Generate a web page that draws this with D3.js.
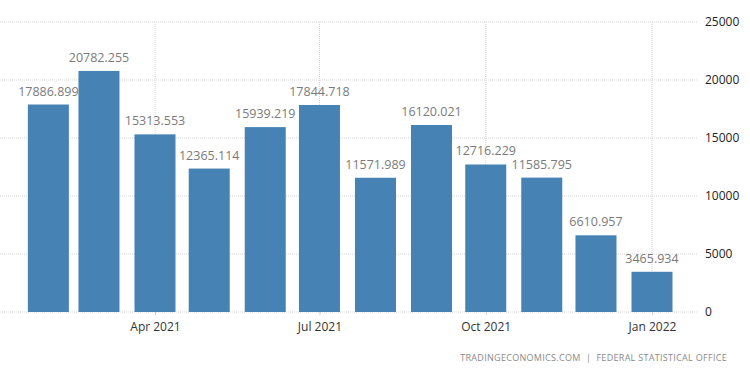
<!DOCTYPE html>
<html>
<head>
<meta charset="utf-8">
<script src="https://cdn.jsdelivr.net/npm/d3@7"></script>
<style>
  body { margin: 0; background: #fff; }
  #chart { width: 750px; height: 375px; }
  text { font-family: "Open Sans", "Liberation Sans", sans-serif; }
</style>
</head>
<body>
<div id="chart"></div>
<script>
// monthly values, Feb 2021 .. Jan 2022
const months = ['2021-02', '2021-03', '2021-04', '2021-05', '2021-06', '2021-07',
  '2021-08', '2021-09', '2021-10', '2021-11', '2021-12', '2022-01'];
const values = [17886.899, 20782.255, 15313.553, 12365.114, 15939.219, 17844.718,
  11571.989, 16120.021, 12716.229, 11585.795, 6610.957, 3465.934];
const xTicks = ['2021-04', '2021-07', '2021-10', '2022-01'];
const yTicks = [0, 5000, 10000, 15000, 20000, 25000];

const W = 750, H = 375;
const plotLeft = 0, plotRight = 697, plotTop = 22, plotBottom = 312;
const parse = d3.timeParse('%Y-%m');
const data = months.map((m, i) => ({date: parse(m), value: values[i]}));

const svg = d3.select('#chart').append('svg').attr('width', W).attr('height', H);

// time scale pinned by Apr 2021 and Jan 2022 tick positions
const x0 = d3.scaleTime().domain([parse('2021-04'), parse('2022-01')]).range([155, 652]);
const x = d3.scaleTime().domain([x0.invert(plotLeft), x0.invert(plotRight)]).range([plotLeft, plotRight]);
const y = d3.scaleLinear().domain([0, 25000]).range([plotBottom, plotTop]);
const barW = 41;

const grid = svg.append('g');
grid.selectAll('.hg').data(yTicks).enter().append('line')
  .attr('x1', plotLeft).attr('x2', plotRight)
  .attr('y1', d => y(d)).attr('y2', d => y(d))
  .attr('stroke', '#d6d6d6').attr('stroke-dasharray', '1,1');
grid.selectAll('.vg').data(xTicks).enter().append('line')
  .attr('x1', d => x(parse(d))).attr('x2', d => x(parse(d)))
  .attr('y1', plotTop).attr('y2', plotBottom)
  .attr('stroke', '#d6d6d6').attr('stroke-dasharray', '1,1');

// bars
svg.selectAll('.bar').data(data).enter().append('rect')
  .attr('class', 'bar')
  .attr('x', d => x(d.date) - barW / 2)
  .attr('width', barW)
  .attr('y', d => y(d.value))
  .attr('height', d => y(0) - y(d.value))
  .attr('fill', '#4682b4');

// value labels
svg.selectAll('.lbl').data(data).enter().append('text')
  .attr('x', d => x(d.date))
  .attr('y', d => y(d.value) - 9)
  .attr('text-anchor', 'middle')
  .attr('font-size', 12.5)
  .attr('fill', '#7a7a7a')
  .text(d => d.value.toFixed(3));

// x axis
const xAxis = d3.axisBottom(x)
  .tickValues(xTicks.map(parse))
  .tickFormat(d3.timeFormat('%b %Y'))
  .tickSize(3).tickPadding(7);
const gx = svg.append('g').attr('transform', `translate(0,${plotBottom})`).call(xAxis);
gx.select('.domain').remove();
gx.selectAll('line').attr('stroke', '#ccc');
gx.selectAll('text').attr('font-size', 12).attr('fill', '#333')
  .attr('font-family', '"Open Sans", sans-serif');

// y axis on the right
const yAxis = d3.axisRight(y).tickValues(yTicks).tickFormat(d3.format('d'))
  .tickSize(0).tickPadding(8);
const gy = svg.append('g').attr('transform', `translate(${plotRight},0)`).call(yAxis);
gy.select('.domain').remove();
gy.selectAll('text').attr('font-size', 12).attr('fill', '#222')
  .attr('font-family', '"Open Sans", sans-serif');

// source
svg.append('text')
  .attr('x', 727).attr('y', 361)
  .attr('text-anchor', 'end')
  .attr('font-size', 9)
  .attr('letter-spacing', 0.3)
  .attr('fill', '#8a8a8a')
  .attr('xml:space', 'preserve')
  .text('TRADINGECONOMICS.COM  |  FEDERAL STATISTICAL OFFICE');
</script>
</body>
</html>
